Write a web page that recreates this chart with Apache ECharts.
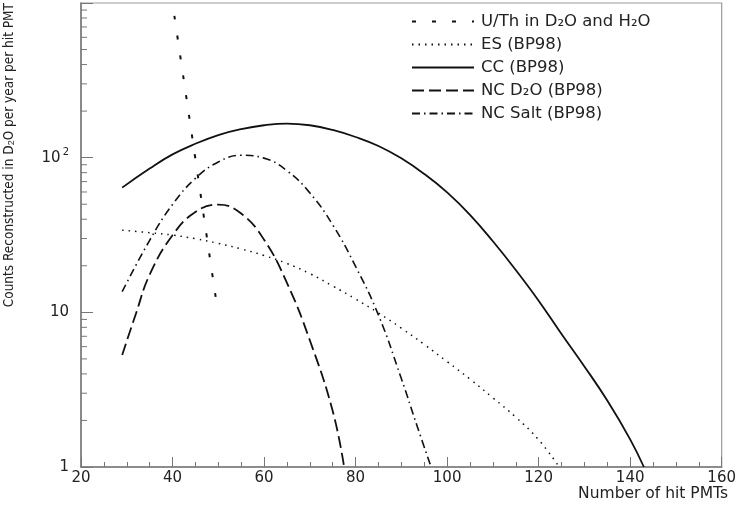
<!DOCTYPE html>
<html>
<head>
<meta charset="utf-8">
<script src="https://cdn.jsdelivr.net/npm/echarts@6/dist/echarts.min.js"></script>
<style>html,body{margin:0;padding:0;background:#fff}#c{width:739px;height:506px}</style>
</head>
<body>
<div id="c"></div>
<script>
// ---- data ----
const seriesNames = ['U/Th in D\u2082O and H\u2082O', 'ES (BP98)', 'CC (BP98)', 'NC D\u2082O (BP98)', 'NC Salt (BP98)'];
const uthX = [40.4, 42.5, 45, 47.5, 49.6];
const uthY = [826, 312, 98, 30.6, 11.6];
const esX = [29, 35, 40, 45, 50, 55, 60, 65, 70, 75, 80, 85, 90, 95, 100, 105, 110, 115, 120, 124.5];
const esY = [34, 32.7, 31.6, 29.9, 27.9, 25.7, 23.3, 20.7, 17.8, 14.8, 12.2, 9.9, 7.9, 6.2, 4.8, 3.7, 2.8, 2.1, 1.5, 1];
const ccX = [29, 35, 40, 45, 50, 55, 60, 65, 70, 75, 80, 85, 90, 95, 100, 105, 110, 115, 120, 125, 130, 135, 140, 143];
const ccY = [64, 85, 105, 123, 140, 153, 162, 166, 162, 151, 136, 119, 99, 78.5, 59.6, 42.7, 28.8, 18.8, 11.9, 7.24, 4.47, 2.69, 1.51, 1];
const ncdX = [29, 32, 35, 40, 45, 50, 55, 60, 65, 70, 75, 77.5];
const ncdY = [5.3, 9.8, 17.5, 31.5, 44.5, 49.7, 43.5, 29.5, 15.5, 6.6, 2.3, 1];
const ncsX = [29, 35, 40, 45, 50, 55, 60, 65, 70, 75, 80, 85, 90, 93.5, 96.5];
const ncsY = [13.6, 29.2, 49.8, 73.4, 93.8, 103.7, 99.3, 82.4, 59.2, 36.8, 19.8, 9.6, 3.73, 1.82, 1];
const xTicks = [20, 40, 60, 80, 100, 120, 140, 160];
const yMinorTicks = [2,3,4,5,6,7,8,9,20,30,40,50,60,70,80,90,200,300,400,500,600,700,800,900];
const xTitle = 'Number of hit PMTs';
const yTitle = 'Counts Reconstructed in D{sub|2}O per year per hit PMT';

const zip = (xs, ys) => xs.map((x, i) => [x, ys[i]]);
const axisCol = '#777';
const lineCol = '#111';

const chart = echarts.init(document.getElementById('c'), null, {renderer: 'canvas'});
function mk(name, xs, ys, dash, w) {
  return {
    name: name, type: 'line', data: zip(xs, ys), showSymbol: false, symbol: 'none',
    smooth: 0.45, lineStyle: {color: lineCol, width: w, type: dash}, itemStyle: {color: lineCol},
    z: 3
  };
}
chart.setOption({
  animation: false,
  backgroundColor: '#fff',
  grid: {left: 81, right: 13, top: 3, bottom: 39, show: true, borderColor: '#999', borderWidth: 1.2},
  legend: {
    data: seriesNames, orient: 'vertical', left: 406, top: 8, itemWidth: 62, itemHeight: 14, itemGap: 6,
    itemStyle: {opacity: 0},
    textStyle: {fontFamily: 'DejaVu Sans', fontSize: 16.5, lineHeight: 17, color: '#222', padding: [0, 0, 0, 2]}
  },
  xAxis: {
    type: 'value', min: 20, max: 160, interval: 20,
    axisLine: {show: true, lineStyle: {color: axisCol, width: 1.5}},
    axisTick: {show: true, inside: true, length: 10, lineStyle: {color: axisCol}},
    minorTick: {show: true, splitNumber: 4, length: 5, lineStyle: {color: axisCol}},
    splitLine: {show: false},
    axisLabel: {margin: 4, fontFamily: 'DejaVu Sans', fontSize: 15, color: '#222',
      formatter: v => xTicks.includes(v) ? String(v) : ''}
  },
  yAxis: {
    type: 'log', min: 1, max: 1000, logBase: 10,
    axisLine: {show: true, lineStyle: {color: axisCol, width: 1.5}},
    axisTick: {show: true, inside: true, length: 12, lineStyle: {color: axisCol}},
    minorTick: {show: false},
    splitLine: {show: false},
    axisLabel: {margin: 12, fontFamily: 'DejaVu Sans', fontSize: 15, color: '#222',
      formatter: v => v === 1 ? '1' : v === 10 ? '10' : v === 100 ? '10{s|2}' : '',
      rich: {s: {fontSize: 10, padding: [0, 0, 10, 2], fontFamily: 'DejaVu Sans', color: '#222'}}}
  },
  graphic: [
    {type: 'text', x: 9, y: 3, rotation: Math.PI / 2,
      style: {text: yTitle, fontFamily: 'Liberation Sans Narrow, DejaVu Sans Condensed, Liberation Sans', fontSize: 13.5,
        fill: '#222', align: 'right', verticalAlign: 'middle',
        rich: {sub: {fontSize: 9, padding: [5, 0, 0, 0], fill: '#222'}}}},
    {type: 'text', x: 728, y: 494,
      style: {text: xTitle, fontFamily: 'DejaVu Sans', fontSize: 15.5, fill: '#222', align: 'right', verticalAlign: 'middle'}}
  ],
  series: [
    mk(seriesNames[0], uthX, uthY, [4, 16], 2),
    mk(seriesNames[1], esX, esY, [1.5, 5], 1.5),
    mk(seriesNames[2], ccX, ccY, 'solid', 1.8),
    mk(seriesNames[3], ncdX, ncdY, [12, 5], 1.8),
    mk(seriesNames[4], ncsX, ncsY, [8, 4, 1.5, 4], 1.6),
    {
      type: 'custom', name: 'minorY', silent: true, z: 4,
      data: yMinorTicks.map(v => [20, v]),
      renderItem: function (params, api) {
        const p = api.coord([api.value(0), api.value(1)]);
        return {type: 'line', shape: {x1: p[0], y1: p[1], x2: p[0] + 6, y2: p[1]},
          style: {stroke: axisCol, lineWidth: 1}};
      }
    }
  ]
});
</script>
</body>
</html>
